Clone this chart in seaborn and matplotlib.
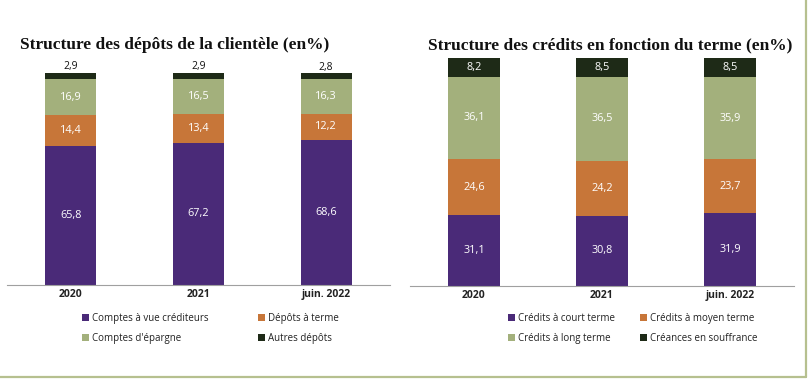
import numpy as np
import pandas as pd
import matplotlib
matplotlib.use("Agg")
import matplotlib.pyplot as plt
from matplotlib.patches import Patch
from matplotlib.lines import Line2D
import seaborn as sns

# data
periods = ["2020", "2021", "juin. 2022"]

depot_labels = ["Comptes à vue créditeurs", "Dépôts à terme", "Comptes d'épargne", "Autres dépôts"]
comptes_vue = [65.8, 67.2, 68.6]
depots_terme = [14.4, 13.4, 12.2]
comptes_epargne = [16.9, 16.5, 16.3]
autres_depots = [2.9, 2.9, 2.8]

credit_labels = ["Crédits à court terme", "Crédits à moyen terme", "Crédits à long terme", "Créances en souffrance"]
credits_court = [31.1, 30.8, 31.9]
credits_moyen = [24.6, 24.2, 23.7]
credits_long = [36.1, 36.5, 35.9]
creances = [8.2, 8.5, 8.5]

colors = ["#4a2a78", "#c77639", "#a3b07c", "#1e2a17"]

sns.set_theme(style="white")
plt.rcParams["font.family"] = ["Open Sans", "DejaVu Sans"]

fig = plt.figure(figsize=(8.12, 3.87), dpi=100)
W, H = 812, 387


def px_axes(x0, x1, ytop, ybot):
    return fig.add_axes([x0 / W, (H - ybot) / H, (x1 - x0) / W, (ybot - ytop) / H])


def stacked(ax, series, labels, top_outside):
    df = pd.DataFrame({lab: vals for lab, vals in zip(labels, series)}, index=periods)
    cum = df.cumsum(axis=1)
    # draw the cumulative totals from the top down so each layer overlaps the next
    for i in range(len(labels) - 1, -1, -1):
        d = pd.DataFrame({"period": periods, "value": cum[labels[i]].values})
        sns.barplot(data=d, x="period", y="value", color=colors[i], width=0.4,
                    saturation=1, ax=ax, linewidth=0)
    for j, p in enumerate(periods):
        for i, lab in enumerate(labels):
            v = df.loc[p, lab]
            txt = f"{v:.1f}".replace(".", ",")
            if i == len(labels) - 1 and top_outside:
                ax.annotate(txt, (j, cum.loc[p, lab]), xytext=(0, 0.5), textcoords="offset points",
                            ha="center", va="bottom", fontsize=7.5, color="#111111", clip_on=False)
            else:
                ax.text(j, cum.loc[p, lab] - v / 2, txt, ha="center", va="center",
                        fontsize=7.8, color="white")
    ax.set_xlim(-0.5, 2.5)
    ax.set_ylim(0, 100)
    ax.set_xlabel("")
    ax.set_ylabel("")
    ax.set_yticks([])
    sns.despine(ax=ax, left=True, top=True, right=True)
    ax.spines["bottom"].set_color("#a0a0a0")
    ax.spines["bottom"].set_linewidth(0.8)
    ax.tick_params(axis="x", length=0, pad=3)
    for t in ax.get_xticklabels():
        t.set_fontsize(7.5)
        t.set_fontweight("bold")
        t.set_color("#222222")
    ax.patch.set_alpha(0)


ax1 = px_axes(7, 390, 73, 285)
stacked(ax1, [comptes_vue, depots_terme, comptes_epargne, autres_depots], depot_labels, True)

ax2 = px_axes(410, 794, 58, 286)
stacked(ax2, [credits_court, credits_moyen, credits_long, creances], credit_labels, False)

title_font = dict(family="Liberation Serif", fontweight="bold", fontsize=12.5, color="#111111")
fig.text(20 / W, 1 - 45 / H, "Structure des dépôts de la clientèle (en%)", ha="left", va="center", **title_font)
fig.text(428 / W, 1 - 45 / H, "Structure des crédits en fonction du terme (en%)", ha="left", va="center", **title_font)


def legend(ax, labels, x, y, spacing):
    order = [0, 2, 1, 3]
    handles = [Patch(facecolor=colors[i], edgecolor="none") for i in order]
    lg = fig.legend(handles, [labels[i] for i in order], ncol=2, loc="upper left",
                    bbox_to_anchor=(x / W, 1 - y / H), frameon=False, fontsize=7,
                    handlelength=0.75, handleheight=0.75, handletextpad=0.25,
                    columnspacing=spacing, labelspacing=0.9, borderpad=0, borderaxespad=0)
    for t in lg.get_texts():
        t.set_color("#222222")


legend(ax1, depot_labels, 82, 313, 5.1)
legend(ax2, credit_labels, 508, 313, 2.6)

# green frame on the right and bottom
fig.add_artist(Line2D([806 / W, 806 / W], [1, 1 - 377 / H], color="#b6c08f", lw=1.6))
fig.add_artist(Line2D([0, 806 / W], [1 - 377 / H, 1 - 377 / H], color="#b6c08f", lw=1.6))

fig.savefig("out.png", dpi=100)
